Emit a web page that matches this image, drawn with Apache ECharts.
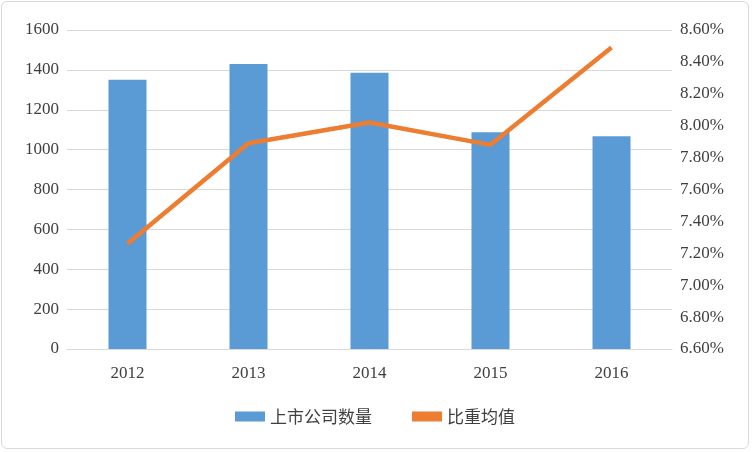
<!DOCTYPE html>
<html>
<head>
<meta charset="utf-8">
<script src="https://cdn.jsdelivr.net/npm/echarts@6/dist/echarts.min.js"></script>
<style>
html,body{margin:0;padding:0;background:#fff;}
#main{position:absolute;left:1px;top:1px;width:748px;height:448px;border:1px solid #d9d9d9;border-radius:6px;box-sizing:border-box;}
</style>
</head>
<body>
<div id="main"></div>
<script>
var years = ['2012', '2013', '2014', '2015', '2016'];
var companyCount = [1350, 1430, 1385, 1087, 1067];
var ratioAvg = [7.26, 7.89, 8.02, 7.88, 8.49];

var myChart = echarts.init(document.getElementById('main'));
var font = '"Liberation Serif", "Noto Sans CJK SC", serif';
var option = {
    textStyle: { fontFamily: font },
    grid: { left: 65, right: 76, top: 28, bottom: 99 },
    legend: {
        bottom: 18,
        itemGap: 40,
        textStyle: { fontSize: 17, color: '#404040', fontFamily: '"Noto Sans CJK SC", sans-serif' },
        data: [
            { name: '上市公司数量', icon: 'rect', itemStyle: { color: '#5b9bd5' } },
            { name: '比重均值', icon: 'rect' }
        ],
        itemWidth: 30, itemHeight: 10
    },
    xAxis: {
        type: 'category',
        data: years,
        axisTick: { show: false },
        axisLine: { lineStyle: { color: '#d9d9d9' } },
        axisLabel: { color: '#404040', fontSize: 17, margin: 16 }
    },
    yAxis: [{
        type: 'value', min: 0, max: 1600, interval: 200,
        axisLabel: { color: '#404040', fontSize: 17, formatter: function (v) { return String(v); } },
        splitLine: { lineStyle: { color: '#d9d9d9' } }
    }, {
        type: 'value', min: 6.6, max: 8.6, interval: 0.2,
        axisLabel: { color: '#404040', fontSize: 17, formatter: function (v) { return v.toFixed(2) + '%'; } },
        splitLine: { show: false }
    }],
    series: [{
        name: '上市公司数量', type: 'bar', data: companyCount, barWidth: 38,
        itemStyle: { color: '#5b9bd5' }
    }, {
        name: '比重均值', type: 'line', yAxisIndex: 1, data: ratioAvg,
        symbol: 'none', lineStyle: { color: '#ed7d31', width: 4.5 }, itemStyle: { color: '#ed7d31' }
    }]
};
myChart.setOption(option, true);
</script>
</body>
</html>
